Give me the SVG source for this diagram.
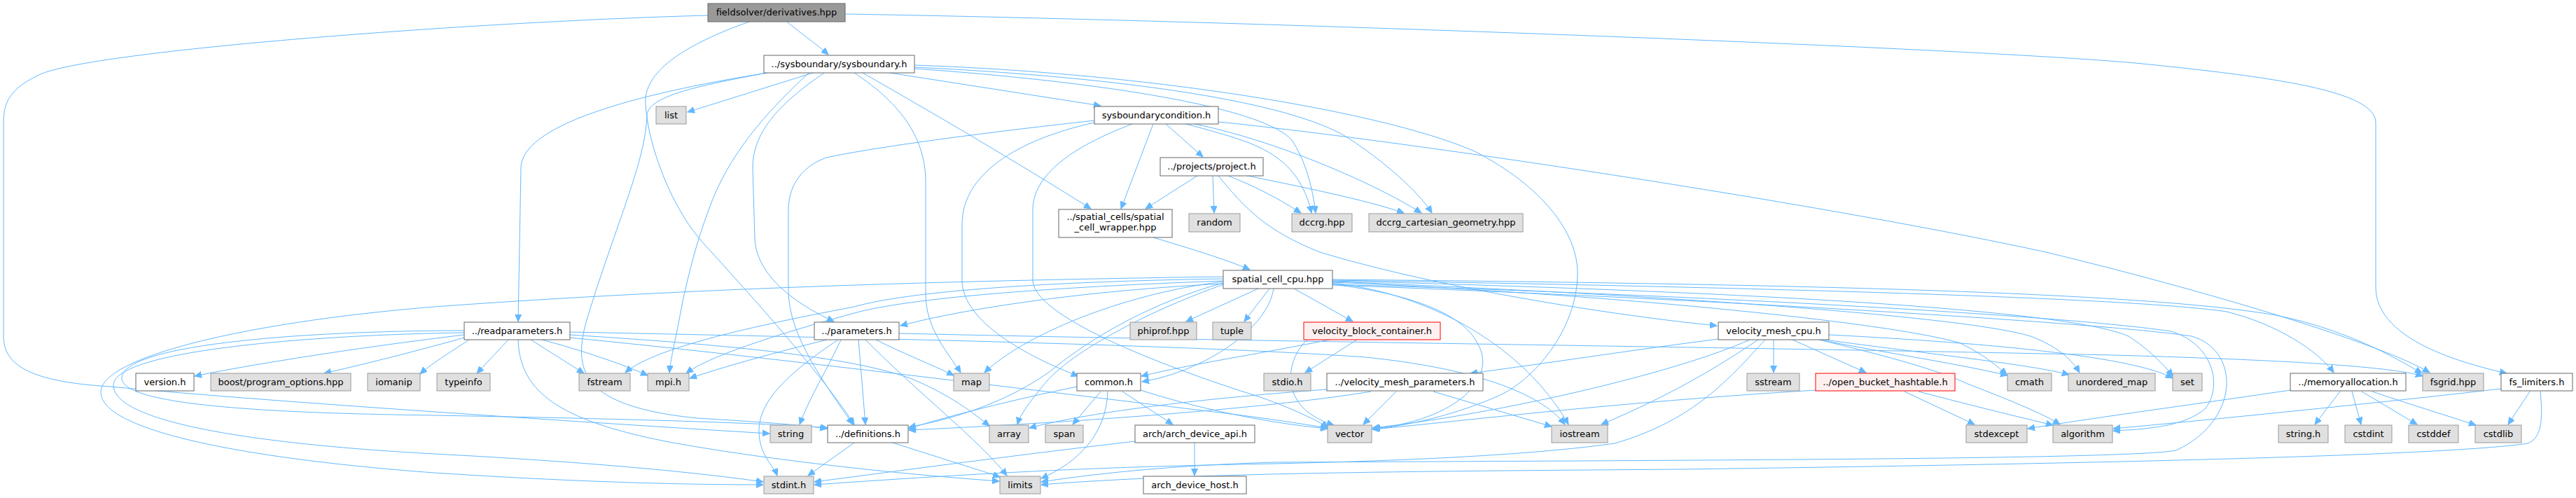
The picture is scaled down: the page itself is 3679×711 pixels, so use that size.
<svg xmlns="http://www.w3.org/2000/svg" width="3679" height="711" viewBox="0 0 3679 711">
<style>
rect{stroke-width:1}
.w rect{fill:#ffffff;stroke:#666666}
.x rect{fill:#e0e0e0;stroke:#999999}
.r rect{fill:#999999;stroke:#666666}
.t rect{fill:#fff0f0;stroke:#ff0000}
text{font-family:'DejaVu Sans','Liberation Sans',sans-serif;font-size:13px;fill:#000;text-anchor:middle}
#edges path{fill:none;stroke:#63b8ff;stroke-width:1;marker-end:url(#ah)}
</style>
<defs>
<marker id="ah" markerUnits="userSpaceOnUse" markerWidth="11" markerHeight="10" refX="10" refY="4.5" orient="auto"><path d="M0,0 L10,4.5 L0,9 z" fill="#63b8ff" stroke="#63b8ff"/></marker>
</defs>
<rect x="0" y="0" width="3679" height="711" fill="#ffffff"/>
<g id="edges">
<path d="M1124,31 C1140,45 1165,62 1183,78"/>
<path d="M1207,20 C1800,30 2800,68 3050,90 C3250,110 3393,130 3393,175 L3393,410 C3393,480 3500,515 3580,533"/>
<path d="M1011,22 C700,30 150,70 60,105 C15,125 5,145 5,175 L5,480 C5,520 40,545 158,552 C400,575 900,607 1099,619"/>
<path d="M1070,31 C960,70 918,110 922,150 C926,210 960,300 1007,350 C1080,430 1170,530 1220,606"/>
<path d="M1161,104 L982,160"/>
<path d="M1096,104 C900,135 744,180 744,240 L740,459"/>
<path d="M1096,104 C980,125 925,140 924,165 C922,230 880,320 840,450 C815,530 830,580 995,597 C1080,602 1140,606 1181,612"/>
<path d="M1220,104 C1290,150 1322,200 1322,260 L1322,420 C1322,470 1355,505 1372,532"/>
<path d="M1155,104 C1095,160 1040,220 1012,300 C995,345 985,385 975,430 C966,480 958,510 956,532"/>
<path d="M1177,104 C1110,150 1075,190 1075,240 L1078,340 C1080,400 1150,440 1191,459"/>
<path d="M1232,104 C1330,160 1450,230 1558,298"/>
<path d="M1271,104 L1572,151"/>
<path d="M1306,98 C1550,115 1800,150 1845,200 C1865,230 1875,270 1879,304"/>
<path d="M1306,96 C1600,110 1850,145 1930,200 C1990,240 2030,280 2045,304"/>
<path d="M1306,93 C1650,105 1980,160 2108,217 C2200,265 2253,330 2253,390 C2253,470 2190,545 2136,567 C2070,595 2010,607 1961,613"/>
<path d="M1665,177 L1718,224"/>
<path d="M1647,177 L1601,298"/>
<path d="M1563,175 C1450,200 1374,250 1374,320 L1374,400 C1374,460 1470,510 1540,537"/>
<path d="M1563,172 C1400,190 1250,210 1180,225 C1140,240 1126,270 1126,300 L1126,415 C1126,480 1180,550 1218,606"/>
<path d="M1617,177 C1530,210 1475,250 1475,300 L1475,400 C1475,450 1650,520 1800,567 C1850,585 1880,600 1897,610"/>
<path d="M1694,177 C1760,195 1800,205 1830,230 C1855,250 1868,280 1873,304"/>
<path d="M1706,177 C1820,200 1960,260 2030,304"/>
<path d="M1740,174 C2000,200 2600,290 2922,360 C3150,415 3400,490 3470,532"/>
<path d="M1710,251 L1636,298"/>
<path d="M1732,251 L1734,304"/>
<path d="M1754,251 C1790,265 1820,280 1858,304"/>
<path d="M1777,250 C1850,265 1950,285 2005,304"/>
<path d="M1740,251 C1780,300 1810,330 1885,360 C2050,410 2300,450 2452,465"/>
<path d="M1647,339 C1700,355 1750,370 1785,385"/>
<path d="M1747,405 C1550,415 1380,440 1286,465"/>
<path d="M1747,398 C1500,402 1300,415 1220,438 C1050,470 930,500 893,532"/>
<path d="M1747,401 C1500,410 1300,425 1220,447 C1100,480 1010,510 980,533"/>
<path d="M1747,395 C1400,400 1000,410 620,438 C350,460 144,510 144,560 C144,615 350,655 620,675 C850,690 1000,692 1090,692"/>
<path d="M1747,402 C1600,420 1460,480 1406,532"/>
<path d="M1747,404 C1650,430 1560,480 1500,530 C1430,580 1350,600 1298,610"/>
<path d="M1748,406 C1650,440 1530,500 1490,550 C1470,575 1458,590 1453,606"/>
<path d="M1819,412 C1810,470 1720,530 1631,545"/>
<path d="M1797,412 L1694,459"/>
<path d="M1813,412 L1777,459"/>
<path d="M1848,412 L1932,459"/>
<path d="M1903,406 C2020,420 2090,450 2110,490 C2140,540 2080,600 1961,612"/>
<path d="M1903,404 C2050,420 2180,500 2240,606"/>
<path d="M1903,403 C2300,420 2700,460 2800,490 C2830,505 2850,520 2866,535"/>
<path d="M1903,402 C2350,420 2800,450 2900,480 C2940,495 2960,515 2970,532"/>
<path d="M1903,401 C2450,415 2950,440 3040,480 C3070,500 3090,520 3103,537"/>
<path d="M1903,400 C2500,410 3050,425 3180,445 C3250,462 3310,500 3333,532"/>
<path d="M1903,399 C2500,405 3050,415 3250,450 C3350,470 3420,510 3459,533"/>
<path d="M1903,406 C2400,420 2950,450 3100,473 C3160,490 3175,550 3150,583 C3120,610 3060,613 3018,615"/>
<path d="M1903,407 C2400,425 3000,460 3130,480 C3200,500 3200,600 3108,643 C3050,655 2500,657 1820,660 C1650,665 1540,680 1487,688"/>
<path d="M3613,559 L3582,606"/>
<path d="M3572,555 C3400,575 3150,600 3018,612"/>
<path d="M3628,559 C3632,600 3630,625 3610,633 C3500,650 3000,662 2400,670 C2000,673 1700,675 1487,692"/>
<path d="M2720,559 L2820,606"/>
<path d="M2740,559 C2820,580 2890,597 2932,607"/>
<path d="M2593,557 C2300,575 2100,600 1960,613"/>
<path d="M2533,485 L2533,532"/>
<path d="M2560,485 L2665,532"/>
<path d="M2598,485 C2700,505 2800,520 2867,536"/>
<path d="M2606,485 C2750,505 2900,520 2955,535"/>
<path d="M2598,485 C2680,505 2760,525 2810,548 C2880,575 2920,592 2942,606"/>
<path d="M2454,484 C2330,500 2200,520 2100,533"/>
<path d="M2499,485 C2400,530 2150,590 1960,611"/>
<path d="M2511,485 C2430,540 2360,575 2287,606"/>
<path d="M2521,485 C2470,540 2420,600 2306,633 C2150,655 1900,660 1820,662 C1600,666 1450,672 1163,692"/>
<path d="M2612,478 C2850,490 3050,510 3103,540"/>
<path d="M3342,559 L3306,606"/>
<path d="M3359,559 L3372,606"/>
<path d="M3373,559 L3452,606"/>
<path d="M3388,559 C3450,580 3500,595 3536,607"/>
<path d="M3271,557 C3150,575 3000,595 2896,612"/>
<path d="M1201,485 C1180,530 1155,570 1142,606"/>
<path d="M1197,485 C1130,530 1084,570 1084,615 C1084,650 1105,665 1110,679"/>
<path d="M1226,485 L1236,606"/>
<path d="M1251,485 C1290,505 1330,520 1362,536"/>
<path d="M1236,485 C1310,560 1400,630 1438,679"/>
<path d="M1181,485 C1100,505 1030,525 985,540"/>
<path d="M1284,476 C1800,488 2400,494 3020,507 C3300,515 3420,525 3460,537"/>
<path d="M663,478 C520,495 360,520 278,537"/>
<path d="M663,482 C600,500 520,520 463,533"/>
<path d="M670,485 C640,505 615,520 600,534"/>
<path d="M726,485 L681,533"/>
<path d="M758,485 L834,533"/>
<path d="M774,485 C830,500 890,520 925,536"/>
<path d="M740,485 C742,560 800,600 950,630 C1100,658 1300,678 1427,687"/>
<path d="M663,472 C450,472 174,490 174,540 C174,580 400,590 620,593 C900,598 1100,604 1182,611"/>
<path d="M663,475 C450,478 162,500 162,550 C162,605 380,635 620,648 C850,660 1000,675 1090,688"/>
<path d="M814,478 C1000,490 1200,505 1300,540 C1360,565 1390,590 1413,608"/>
<path d="M814,474 C1200,482 1700,492 1950,510 C2100,525 2200,560 2235,606"/>
<path d="M814,482 C1100,510 1500,560 1750,590 C1830,600 1870,607 1896,611"/>
<path d="M1572,559 L1532,606"/>
<path d="M1603,559 L1675,606"/>
<path d="M1582,559 C1580,620 1540,660 1487,683"/>
<path d="M1538,552 C1450,570 1350,595 1298,612"/>
<path d="M1629,557 C1700,580 1800,603 1896,612"/>
<path d="M1938,485 L1864,532"/>
<path d="M1899,485 C1800,505 1700,520 1630,537"/>
<path d="M1867,485 C1840,510 1830,560 1870,590 C1885,600 1895,604 1905,607"/>
<path d="M1994,559 L1947,606"/>
<path d="M2047,559 L2216,609"/>
<path d="M1895,556 C1700,570 1550,590 1470,611"/>
<path d="M1958,559 C1800,585 1500,605 1298,614"/>
<path d="M1706,632 L1706,679"/>
<path d="M1621,630 C1450,650 1300,670 1163,688"/>
<path d="M1220,632 L1154,679"/>
<path d="M1275,632 C1330,650 1390,668 1428,681"/>
</g>
<g id="n0" class="r"><rect x="1011" y="5" width="196" height="26"/><text x="1109" y="22">fieldsolver/derivatives.hpp</text></g>
<g id="n1" class="w"><rect x="1091" y="79" width="215" height="25"/><text x="1198.5" y="96">../sysboundary/sysboundary.h</text></g>
<g id="n2" class="x"><rect x="937" y="152" width="43" height="25"/><text x="958.5" y="169">list</text></g>
<g id="n3" class="w"><rect x="1563" y="152" width="177" height="25"/><text x="1651.5" y="169">sysboundarycondition.h</text></g>
<g id="n4" class="w"><rect x="1657" y="225" width="147" height="26"/><text x="1730.5" y="242">../projects/project.h</text></g>
<g id="n5" class="w"><rect x="1512" y="299" width="162" height="40"/><text x="1593" y="314">../spatial_cells/spatial</text><text x="1593" y="329">_cell_wrapper.hpp</text></g>
<g id="n6" class="x"><rect x="1698" y="305" width="73" height="26"/><text x="1734.5" y="322">random</text></g>
<g id="n7" class="x"><rect x="1845" y="305" width="86" height="26"/><text x="1888" y="322">dccrg.hpp</text></g>
<g id="n8" class="x"><rect x="1955" y="305" width="220" height="26"/><text x="2065" y="322">dccrg_cartesian_geometry.hpp</text></g>
<g id="n9" class="w"><rect x="1747" y="386" width="156" height="26"/><text x="1825" y="403">spatial_cell_cpu.hpp</text></g>
<g id="n10" class="w"><rect x="663" y="460" width="151" height="25"/><text x="738.5" y="477">../readparameters.h</text></g>
<g id="n11" class="w"><rect x="1163" y="460" width="121" height="25"/><text x="1223.5" y="477">../parameters.h</text></g>
<g id="n12" class="x"><rect x="1614" y="460" width="95" height="25"/><text x="1661.5" y="477">phiprof.hpp</text></g>
<g id="n13" class="x"><rect x="1732" y="460" width="55" height="25"/><text x="1759.5" y="477">tuple</text></g>
<g id="n14" class="t"><rect x="1862" y="460" width="195" height="25"/><text x="1959.5" y="477">velocity_block_container.h</text></g>
<g id="n15" class="w"><rect x="2454" y="460" width="158" height="25"/><text x="2533" y="477">velocity_mesh_cpu.h</text></g>
<g id="n16" class="w"><rect x="194" y="533" width="83" height="25"/><text x="235.5" y="550">version.h</text></g>
<g id="n17" class="x"><rect x="301" y="533" width="200" height="25"/><text x="401" y="550">boost/program_options.hpp</text></g>
<g id="n18" class="x"><rect x="525" y="533" width="75" height="25"/><text x="562.5" y="550">iomanip</text></g>
<g id="n19" class="x"><rect x="624" y="533" width="76" height="25"/><text x="662" y="550">typeinfo</text></g>
<g id="n20" class="x"><rect x="827" y="533" width="73" height="25"/><text x="863.5" y="550">fstream</text></g>
<g id="n21" class="x"><rect x="925" y="533" width="59" height="25"/><text x="954.5" y="550">mpi.h</text></g>
<g id="n22" class="x"><rect x="1362" y="533" width="51" height="25"/><text x="1387.5" y="550">map</text></g>
<g id="n23" class="w"><rect x="1538" y="533" width="91" height="25"/><text x="1583.5" y="550">common.h</text></g>
<g id="n24" class="x"><rect x="1805" y="533" width="67" height="25"/><text x="1838.5" y="550">stdio.h</text></g>
<g id="n25" class="w"><rect x="1895" y="533" width="223" height="25"/><text x="2006.5" y="550">../velocity_mesh_parameters.h</text></g>
<g id="n26" class="x"><rect x="2495" y="533" width="75" height="25"/><text x="2532.5" y="550">sstream</text></g>
<g id="n27" class="t"><rect x="2593" y="533" width="199" height="25"/><text x="2692.5" y="550">../open_bucket_hashtable.h</text></g>
<g id="n28" class="x"><rect x="2867" y="533" width="63" height="25"/><text x="2898.5" y="550">cmath</text></g>
<g id="n29" class="x"><rect x="2954" y="533" width="124" height="25"/><text x="3016" y="550">unordered_map</text></g>
<g id="n30" class="x"><rect x="3103" y="533" width="42" height="25"/><text x="3124" y="550">set</text></g>
<g id="n31" class="w"><rect x="3271" y="533" width="165" height="25"/><text x="3353.5" y="550">../memoryallocation.h</text></g>
<g id="n32" class="x"><rect x="3460" y="533" width="87" height="25"/><text x="3503.5" y="550">fsgrid.hpp</text></g>
<g id="n33" class="w"><rect x="3572" y="533" width="102" height="25"/><text x="3623" y="550">fs_limiters.h</text></g>
<g id="n34" class="x"><rect x="1100" y="607" width="59" height="25"/><text x="1129.5" y="624">string</text></g>
<g id="n35" class="w"><rect x="1182" y="607" width="115" height="25"/><text x="1239.5" y="624">../definitions.h</text></g>
<g id="n36" class="x"><rect x="1413" y="607" width="56" height="25"/><text x="1441" y="624">array</text></g>
<g id="n37" class="x"><rect x="1493" y="607" width="54" height="25"/><text x="1520" y="624">span</text></g>
<g id="n38" class="w"><rect x="1621" y="607" width="171" height="25"/><text x="1706.5" y="624">arch/arch_device_api.h</text></g>
<g id="n39" class="x"><rect x="1896" y="607" width="63" height="25"/><text x="1927.5" y="624">vector</text></g>
<g id="n40" class="x"><rect x="2216" y="607" width="80" height="25"/><text x="2256" y="624">iostream</text></g>
<g id="n41" class="x"><rect x="2808" y="607" width="87" height="25"/><text x="2851.5" y="624">stdexcept</text></g>
<g id="n42" class="x"><rect x="2932" y="607" width="85" height="25"/><text x="2974.5" y="624">algorithm</text></g>
<g id="n43" class="x"><rect x="3254" y="607" width="71" height="25"/><text x="3289.5" y="624">string.h</text></g>
<g id="n44" class="x"><rect x="3349" y="607" width="67" height="25"/><text x="3382.5" y="624">cstdint</text></g>
<g id="n45" class="x"><rect x="3440" y="607" width="71" height="25"/><text x="3475.5" y="624">cstddef</text></g>
<g id="n46" class="x"><rect x="3535" y="607" width="66" height="25"/><text x="3568" y="624">cstdlib</text></g>
<g id="n47" class="x"><rect x="1091" y="680" width="71" height="25"/><text x="1126.5" y="697">stdint.h</text></g>
<g id="n48" class="x"><rect x="1428" y="680" width="58" height="25"/><text x="1457" y="697">limits</text></g>
<g id="n49" class="w"><rect x="1633" y="680" width="147" height="25"/><text x="1706.5" y="697">arch_device_host.h</text></g>
</svg>
